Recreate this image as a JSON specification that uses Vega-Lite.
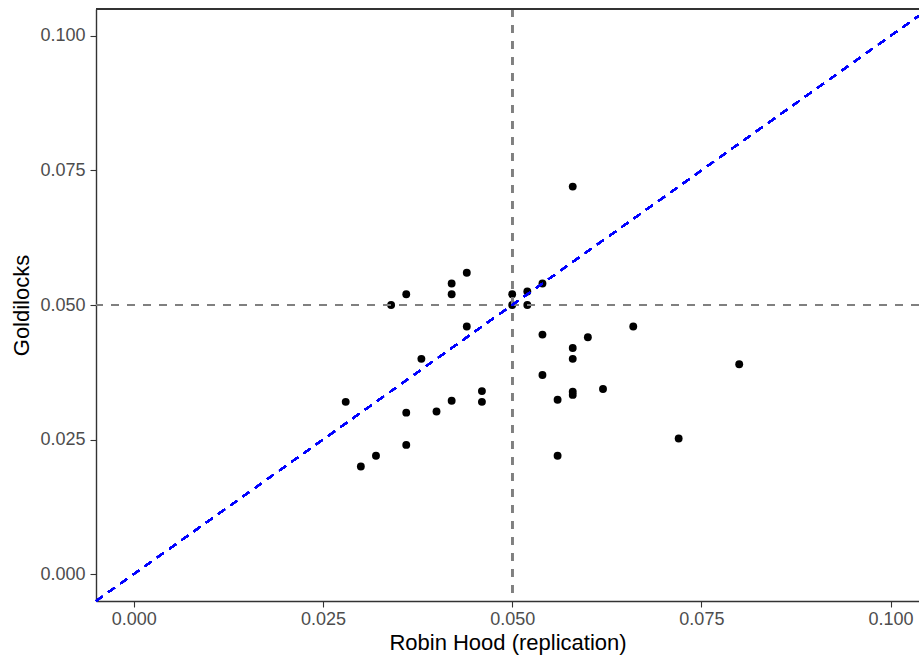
{
  "$schema": "https://vega.github.io/schema/vega-lite/v6.json",
  "width": 823,
  "height": 592,
  "autosize": {"type": "none"},
  "padding": {"left": 96, "top": 9, "right": 0, "bottom": 59},
  "background": "white",
  "config": {
    "view": {"stroke": null},
    "axis": {
      "grid": false,
      "domainColor": "#333333",
      "domainWidth": 1.4,
      "tickColor": "#333333",
      "tickWidth": 1.1,
      "tickSize": 6,
      "labelColor": "#4d4d4d",
      "labelFont": "Liberation Sans",
      "labelFontSize": 18,
      "titleFont": "Liberation Sans",
      "titleFontSize": 22,
      "titleFontWeight": "normal",
      "titleColor": "#000000"
    }
  },
  "data": {
    "values": [
      {"robin": 0.058, "gold": 0.072},
      {"robin": 0.044, "gold": 0.056},
      {"robin": 0.042, "gold": 0.054},
      {"robin": 0.042, "gold": 0.052},
      {"robin": 0.036, "gold": 0.052},
      {"robin": 0.034, "gold": 0.050},
      {"robin": 0.050, "gold": 0.052},
      {"robin": 0.050, "gold": 0.050},
      {"robin": 0.052, "gold": 0.0525},
      {"robin": 0.052, "gold": 0.050},
      {"robin": 0.054, "gold": 0.054},
      {"robin": 0.044, "gold": 0.046},
      {"robin": 0.054, "gold": 0.0445},
      {"robin": 0.060, "gold": 0.044},
      {"robin": 0.058, "gold": 0.042},
      {"robin": 0.066, "gold": 0.046},
      {"robin": 0.058, "gold": 0.040},
      {"robin": 0.038, "gold": 0.040},
      {"robin": 0.054, "gold": 0.037},
      {"robin": 0.028, "gold": 0.032},
      {"robin": 0.046, "gold": 0.034},
      {"robin": 0.046, "gold": 0.032},
      {"robin": 0.042, "gold": 0.0322},
      {"robin": 0.040, "gold": 0.0302},
      {"robin": 0.036, "gold": 0.030},
      {"robin": 0.056, "gold": 0.0324},
      {"robin": 0.058, "gold": 0.0339},
      {"robin": 0.058, "gold": 0.0333},
      {"robin": 0.062, "gold": 0.0344},
      {"robin": 0.036, "gold": 0.024},
      {"robin": 0.032, "gold": 0.022},
      {"robin": 0.030, "gold": 0.020},
      {"robin": 0.056, "gold": 0.022},
      {"robin": 0.080, "gold": 0.039},
      {"robin": 0.072, "gold": 0.0252}
    ]
  },
  "encoding": {
    "x": {
      "field": "robin",
      "type": "quantitative",
      "scale": {"domain": [-0.005, 0.10376], "nice": false, "zero": false},
      "axis": {
        "title": "Robin Hood (replication)",
        "values": [0, 0.025, 0.05, 0.075, 0.1],
        "format": ".3f",
        "labelPadding": 3,
        "titlePadding": 4
      }
    },
    "y": {
      "field": "gold",
      "type": "quantitative",
      "scale": {"domain": [-0.005, 0.105], "nice": false, "zero": false},
      "axis": {
        "title": "Goldilocks",
        "values": [0, 0.025, 0.05, 0.075, 0.1],
        "format": ".3f",
        "labelPadding": 5,
        "titlePadding": 6
      }
    }
  },
  "layer": [
    {
      "mark": {"type": "circle", "color": "#000000", "opacity": 1, "size": 62}
    },
    {
      "mark": {"type": "rule", "color": "#808080", "strokeWidth": 1.8, "strokeDash": [8, 8]},
      "encoding": {"x": {"datum": 0.05}, "y": null}
    },
    {
      "mark": {"type": "rule", "color": "#808080", "strokeWidth": 1.8, "strokeDash": [8, 8]},
      "encoding": {"y": {"datum": 0.05}, "x": null}
    },
    {
      "mark": {"type": "rule", "color": "#0000ff", "strokeWidth": 1.7, "strokeDash": [8, 7]},
      "encoding": {
        "x": {"datum": -0.005},
        "x2": {"datum": 0.10376},
        "y": {"datum": -0.005},
        "y2": {"datum": 0.10376}
      }
    },
    {
      "mark": {"type": "rule", "color": "#333333", "strokeWidth": 1.4},
      "encoding": {"y": {"datum": 0.105}, "x": null}
    }
  ]
}
